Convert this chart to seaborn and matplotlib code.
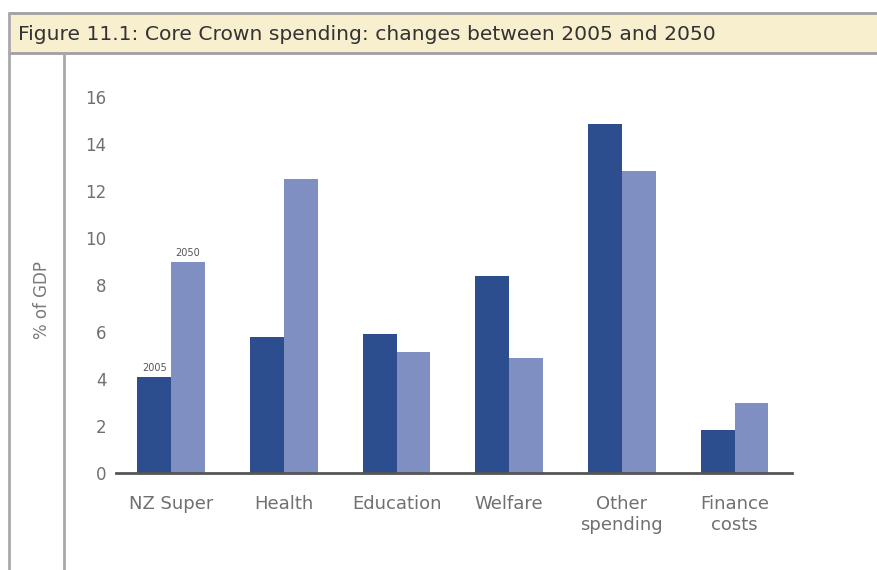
import matplotlib
matplotlib.use("Agg")
import matplotlib.pyplot as plt
from matplotlib.lines import Line2D
from matplotlib.patches import Rectangle
import seaborn as sns
import pandas as pd

categories = ["NZ Super", "Health", "Education", "Welfare", "Other\nspending", "Finance\ncosts"]
values_2005 = [4.1, 5.8, 5.9, 8.4, 14.85, 1.85]
values_2050 = [9.0, 12.5, 5.15, 4.9, 12.85, 3.0]
years = ["2005", "2050"]
yticks = [0, 2, 4, 6, 8, 10, 12, 14, 16]

df = pd.DataFrame({
    "category": categories * 2,
    "year": [years[0]] * len(categories) + [years[1]] * len(categories),
    "value": values_2005 + values_2050,
})

sns.set_theme(style="white")
plt.rcParams['font.family'] = ['DejaVu Sans']

fig = plt.figure(figsize=(8.77, 5.70), dpi=100)
ax = fig.add_axes([116 / 877, 1 - 473 / 570, (792 - 116) / 877, (473 - 97) / 570])

palette = {"2005": "#2c4d8e", "2050": "#7f8fc2"}
sns.barplot(data=df, x="category", y="value", hue="year", palette=palette,
            width=0.6, saturation=1, ax=ax, legend=False, linewidth=0)

ax.set_ylim(0, 16)
ax.set_xlim(-0.49, 5.51)
ax.set_yticks(yticks)
ax.set_yticklabels([str(t) for t in yticks])
ax.tick_params(axis="y", length=0, labelsize=12, labelcolor="#707070", pad=7)
ax.tick_params(axis="x", length=0, labelsize=13, labelcolor="#707070", pad=16)
for lab in ax.get_xticklabels():
    lab.set_linespacing(1.2)
    lab.set_verticalalignment("top")
ax.set_xlabel("")
ax.set_ylabel("")
for s in ["top", "right", "left"]:
    ax.spines[s].set_visible(False)
ax.spines["bottom"].set_color("#555555")
ax.spines["bottom"].set_linewidth(2)

# year labels above the NZ Super bars
ax.text(-0.15, values_2005[0] + 0.15, years[0], ha="center", va="bottom",
        fontsize=7, color="#555555")
ax.text(0.15, values_2050[0] + 0.15, years[1], ha="center", va="bottom",
        fontsize=7, color="#555555")

# y label
fig.text(42 / 877, 1 - 300 / 570, "% of GDP", rotation=90, ha="center", va="center",
         fontsize=12, color="#7a7a7a")

# title band
band = Rectangle((9 / 877, 1 - 53 / 570), 1 - 9 / 877, 40 / 570, transform=fig.transFigure,
                 facecolor="#f8efcf", edgecolor="none", zorder=0)
fig.patches.append(band)
for yy in [13, 53]:
    fig.add_artist(Line2D([9 / 877, 1], [1 - yy / 570, 1 - yy / 570], transform=fig.transFigure,
                          color="#a0a0a0", linewidth=2))
fig.add_artist(Line2D([9 / 877, 9 / 877], [0, 1 - 13 / 570], transform=fig.transFigure,
                      color="#a8a8a8", linewidth=2))
fig.add_artist(Line2D([64 / 877, 64 / 877], [0, 1 - 53 / 570], transform=fig.transFigure,
                      color="#a8a8a8", linewidth=2))
fig.text(18 / 877, 1 - 35 / 570, "Figure 11.1: Core Crown spending: changes between 2005 and 2050",
         ha="left", va="center", fontsize=14.6, color="#333333")

fig.savefig("out.png", dpi=100, facecolor="white")
